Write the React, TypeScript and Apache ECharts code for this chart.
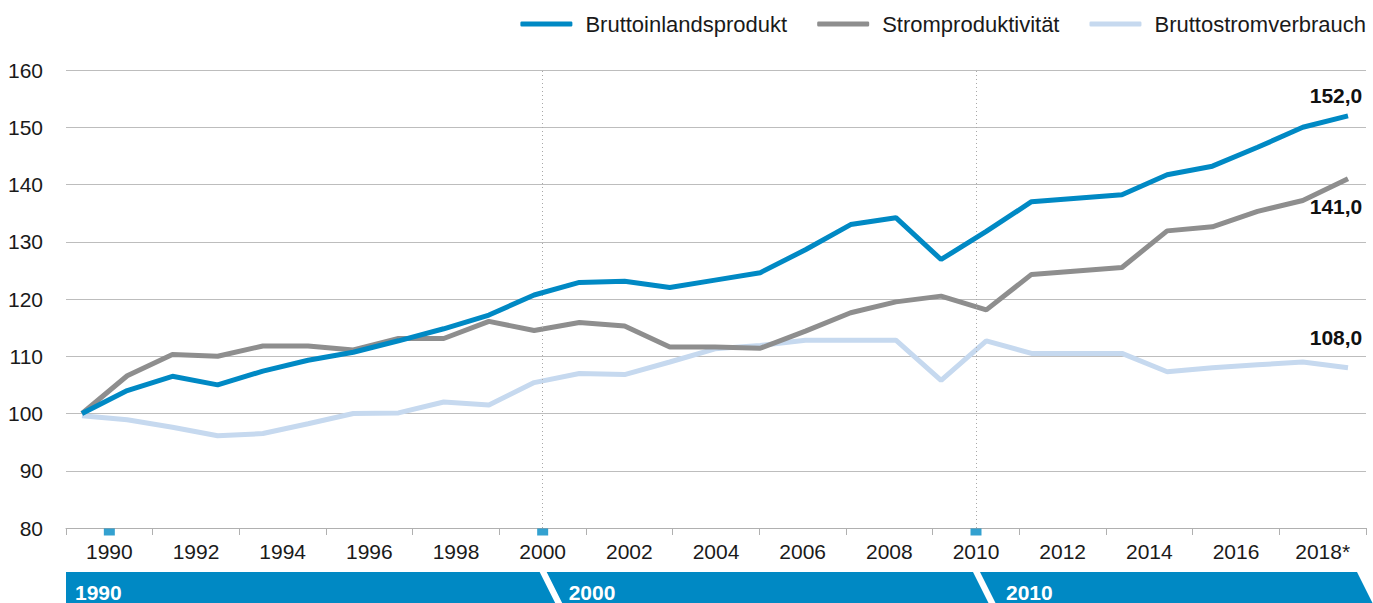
import React, { useEffect, useRef } from "react";
import * as echarts from "echarts";

const years = [1990, 1991, 1992, 1993, 1994, 1995, 1996, 1997, 1998, 1999, 2000, 2001, 2002, 2003, 2004, 2005, 2006, 2007, 2008, 2009, 2010, 2011, 2012, 2013, 2014, 2015, 2016, 2017, 2018];
const bip = [100, 104.0, 106.5, 105.0, 107.4, 109.3, 110.7, 112.7, 114.8, 117.2, 120.7, 122.9, 123.1, 122.0, 123.3, 124.6, 128.6, 133.0, 134.2, 126.9, 131.8, 137.0, 137.6, 138.2, 141.7, 143.2, 146.5, 150.0, 152.0];
const strom = [100, 106.6, 110.3, 110.0, 111.8, 111.8, 111.1, 113.1, 113.1, 116.1, 114.5, 115.9, 115.3, 111.6, 111.6, 111.4, 114.4, 117.6, 119.5, 120.5, 118.1, 124.3, 124.9, 125.5, 131.9, 132.6, 135.3, 137.2, 141.0];
const verbrauch = [99.6, 98.9, 97.6, 96.1, 96.5, 98.2, 100.0, 100.1, 102.0, 101.5, 105.4, 107.0, 106.8, 109.0, 111.3, 111.9, 112.8, 112.8, 112.8, 105.8, 112.7, 110.5, 110.5, 110.5, 107.3, 108.0, 108.5, 109.0, 108.0];
const tickLabels = ["1990", "1992", "1994", "1996", "1998", "2000", "2002", "2004", "2006", "2008", "2010", "2012", "2014", "2016", "2018*"];
const decades = ["1990", "2000", "2010"];
const seriesNames = ["Bruttoinlandsprodukt", "Stromproduktivität", "Bruttostromverbrauch"];

const BLUE = "#0089c4";
const GRAY = "#8e8e8e";
const LIGHT = "#c6d9ef";
const FONT = "Liberation Sans, Arial, sans-serif";

const fmt = (v: number) => v.toFixed(1).replace(".", ",");

function endPoint(values: number[], offsetY: number) {
  const i = values.length - 1;
  return {
    symbol: "circle",
    symbolSize: 1,
    itemStyle: { color: "rgba(0,0,0,0)" },
    label: {
      show: true,
      position: "inside",
      formatter: () => fmt(values[i]),
      fontFamily: FONT,
      fontSize: 21,
      fontWeight: "bold",
      color: "#111",
      offset: [-12, offsetY],
    },
    data: [{ coord: [years[i], values[i]] }],
  };
}

export default function App() {
  const ref = useRef<HTMLDivElement>(null);
  useEffect(() => {
    if (!ref.current) return;
    const chart = echarts.init(ref.current, null, { renderer: "svg" });
    const toPairs = (vals: number[]) => vals.map((v, i) => [years[i], v]);
    const option: any = {
      animation: false,
      textStyle: { fontFamily: FONT },
      legend: {
        data: seriesNames,
        right: 2,
        top: 8,
        icon: "roundRect",
        itemWidth: 52,
        itemHeight: 5,
        itemGap: 30,
        textStyle: { fontFamily: FONT, fontSize: 22, color: "#1a1a1a", padding: [0, 0, 0, 8] },
      },
      grid: { left: 66, right: 7, top: 70, bottom: 75 },
      xAxis: [
        {
          type: "category",
          data: tickLabels,
          boundaryGap: true,
          axisLine: { lineStyle: { color: "#b0b0b0", width: 1 } },
          axisTick: { show: true, length: 7, lineStyle: { color: "#b0b0b0" } },
          axisLabel: { fontFamily: FONT, fontSize: 21, color: "#1a1a1a", margin: 13 },
          splitLine: { show: false },
        },
        {
          type: "value",
          min: 1989.646,
          max: 2018.398,
          show: false,
          splitLine: { show: false },
        },
      ],
      yAxis: {
        type: "value",
        min: 80,
        max: 160,
        interval: 10,
        axisLine: { show: false },
        axisTick: { show: false },
        axisLabel: { fontFamily: FONT, fontSize: 21, color: "#1a1a1a", margin: 23 },
        splitLine: { lineStyle: { color: "#bdbdbd", width: 1 } },
      },
      series: [
        {
          type: "line",
          xAxisIndex: 0,
          data: [],
          silent: true,
          z: 1,
          markLine: {
            silent: true,
            symbol: "none",
            label: { show: false },
            lineStyle: { color: "#a8a8a8", type: [1, 3], width: 1 },
            data: [{ xAxis: decades[1] }, { xAxis: decades[2] }],
          },
        },
        {
          name: seriesNames[0],
          type: "line",
          xAxisIndex: 1,
          data: toPairs(bip),
          showSymbol: false,
          lineStyle: { color: BLUE, width: 5 },
          itemStyle: { color: BLUE },
          z: 5,
          markPoint: endPoint(bip, -20),
        },
        {
          name: seriesNames[1],
          type: "line",
          xAxisIndex: 1,
          data: toPairs(strom),
          showSymbol: false,
          lineStyle: { color: GRAY, width: 5 },
          itemStyle: { color: GRAY },
          z: 4,
          markPoint: endPoint(strom, 28),
        },
        {
          name: seriesNames[2],
          type: "line",
          xAxisIndex: 1,
          data: toPairs(verbrauch),
          showSymbol: false,
          lineStyle: { color: LIGHT, width: 5 },
          itemStyle: { color: LIGHT },
          z: 3,
          markPoint: endPoint(verbrauch, -30),
        },
        {
          type: "scatter",
          xAxisIndex: 0,
          data: decades.map((d) => [d, 80]),
          symbol: "rect",
          symbolSize: [11, 7],
          symbolOffset: [0, 4],
          itemStyle: { color: BLUE },
          clip: false,
          silent: true,
          z: 10,
        },
      ],
    };
    chart.setOption(option);

    const xs = decades.map((d) => chart.convertToPixel({ xAxisIndex: 0 }, d) as number);
    const L = 66;
    const R = 1366;
    const top = 572, mid = 604, bot = 636, sl = 16;
    const b1 = xs[1], b2 = xs[2];
    const polys = [
      [[L, top], [b1 - 3, top], [b1 - 3 + sl, mid], [b1 - 3, bot], [L, bot]],
      [[b1 + 4, top], [b2 - 3, top], [b2 - 3 + sl, mid], [b2 - 3, bot], [b1 + 4, bot], [b1 + 4 + sl, mid]],
      [[b2 + 4, top], [R - 9, top], [R - 9 + sl, mid], [R - 9, bot], [b2 + 4, bot], [b2 + 4 + sl, mid]],
    ];
    const textX = [L + 9, b1 + 26, b2 + 30];
    const graphic: any[] = [];
    polys.forEach((p, i) => {
      graphic.push({ type: "polygon", shape: { points: p }, style: { fill: BLUE }, silent: true });
      graphic.push({
        type: "text",
        x: textX[i],
        y: 592,
        style: {
          text: decades[i],
          fill: "#ffffff",
          fontFamily: FONT,
          fontSize: 21,
          fontWeight: "bold",
          textVerticalAlign: "middle",
          textAlign: "left",
        },
        silent: true,
      });
    });
    chart.setOption({ graphic });

    return () => chart.dispose();
  }, []);
  return (
    <div
      ref={ref}
      style={{ position: "fixed", left: 0, top: 0, width: 1373, height: 603, background: "#fff" }}
    />
  );
}
